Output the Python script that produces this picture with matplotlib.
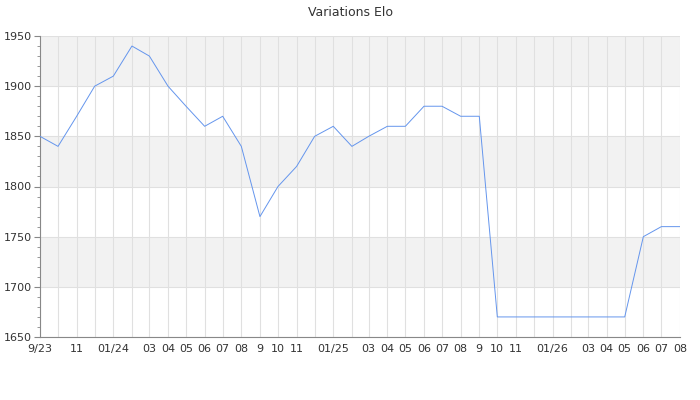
import matplotlib
matplotlib.use("Agg")
import matplotlib.pyplot as plt
import matplotlib.dates as mdates
import pandas as pd

months = ["2023-09", "2023-10", "2023-11", "2023-12", "2024-01", "2024-02", "2024-03",
          "2024-04", "2024-05", "2024-06", "2024-07", "2024-08", "2024-09", "2024-10",
          "2024-11", "2024-12", "2025-01", "2025-02", "2025-03", "2025-04", "2025-05",
          "2025-06", "2025-07", "2025-08", "2025-09", "2025-10", "2025-11", "2025-12",
          "2026-01", "2026-02", "2026-03", "2026-04", "2026-05", "2026-06", "2026-07",
          "2026-08"]
elo = [1850, 1840, 1870, 1900, 1910, 1940, 1930, 1900, 1880, 1860, 1870, 1840,
       1770, 1800, 1820, 1850, 1860, 1840, 1850, 1860, 1860, 1880, 1880, 1870,
       1870, 1670, 1670, 1670, 1670, 1670, 1670, 1670, 1670, 1750, 1760, 1760]

tick_months = ["2023-09", "2023-11", "2024-01", "2024-03", "2024-04", "2024-05", "2024-06",
               "2024-07", "2024-08", "2024-09", "2024-10", "2024-11", "2025-01", "2025-03",
               "2025-04", "2025-05", "2025-06", "2025-07", "2025-08", "2025-09", "2025-10",
               "2025-11", "2026-01", "2026-03", "2026-04", "2026-05", "2026-06", "2026-07",
               "2026-08"]
tick_labels = ["9/23", "11", "01/24", "03", "04", "05", "06", "07", "08", "9", "10", "11",
               "01/25", "03", "04", "05", "06", "07", "08", "9", "10", "11", "01/26",
               "03", "04", "05", "06", "07", "08"]
y_ticks = [1650, 1700, 1750, 1800, 1850, 1900, 1950]

x = pd.to_datetime(months)
xt = pd.to_datetime(tick_months)

fig = plt.figure(figsize=(7, 4), dpi=100)
ax = fig.add_axes([40/700, 1 - 337/400, 640/700, (337 - 36)/400])

text_c = "#333333"
for i in range(len(y_ticks) - 1):
    if (len(y_ticks) - 2 - i) % 2 == 0:
        ax.axhspan(y_ticks[i], y_ticks[i + 1], color="#f2f2f2", zorder=0, lw=0)

ax.plot(x, elo, color="#6495ed", lw=0.7, zorder=3)

ax.set_xlim(x[0], x[-1])
ax.set_ylim(y_ticks[0], y_ticks[-1])
ax.set_yticks(y_ticks)
ax.set_yticklabels([str(v) for v in y_ticks])
ax.yaxis.set_minor_locator(matplotlib.ticker.MultipleLocator(10))

ax.set_xticks(mdates.date2num(xt))
ax.set_xticklabels(tick_labels)
ax.xaxis.set_minor_locator(mdates.MonthLocator())
ax.xaxis.remove_overlapping_locs = False

ax.grid(True, which="minor", axis="x", color="#e0e0e0", lw=0.8, zorder=1)
ax.grid(True, which="major", axis="y", color="#e0e0e0", lw=0.8, zorder=1)
ax.set_axisbelow(True)

for s in ["top", "right"]:
    ax.spines[s].set_visible(False)
for s in ["left", "bottom"]:
    ax.spines[s].set_color("#888888")
    ax.spines[s].set_linewidth(0.8)

ax.tick_params(axis="y", which="major", length=4, color="#888888", labelsize=8,
               labelcolor=text_c, pad=2)
ax.tick_params(axis="y", which="minor", length=2, color="#888888")
ax.tick_params(axis="x", which="both", length=0, labelsize=8, labelcolor=text_c, pad=5)

fig.text(0.5, 1 - 12/400, "Variations Elo", ha="center", va="center",
         fontsize=9, color=text_c)

fig.savefig("out.png", dpi=100)
